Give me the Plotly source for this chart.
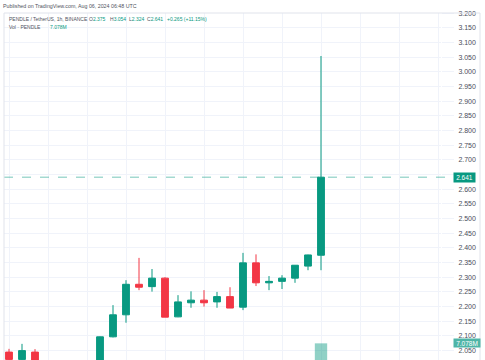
import plotly.graph_objects as go
import pandas as pd

# ---- data ----
times = pd.date_range("2024-08-05 06:00", periods=25, freq="h")
opens  = [2.045, 2.020, 2.045, None, None, None, None, 2.000, 2.097, 2.172, 2.276, 2.268, 2.297,
          2.165, 2.213, 2.222, 2.216, 2.234, 2.198, 2.349, 2.281, 2.286, 2.297, 2.338, 2.375]
highs  = [2.056, 2.073, 2.055, None, None, None, None, 2.098, 2.205, 2.290, 2.366, 2.328, 2.300,
          2.239, 2.252, 2.256, 2.250, 2.266, 2.383, 2.378, 2.304, 2.307, 2.341, 2.377, 3.054]
lows   = [2.000, 2.000, 1.990, None, None, None, None, 1.980, 2.095, 2.145, 2.256, 2.251, 2.164,
          2.164, 2.196, 2.200, 2.196, 2.195, 2.188, 2.270, 2.256, 2.260, 2.281, 2.324, 2.324]
closes = [2.020, 2.050, 2.000, None, None, None, None, 2.097, 2.172, 2.276, 2.266, 2.297, 2.164,
          2.216, 2.222, 2.213, 2.234, 2.195, 2.349, 2.281, 2.286, 2.297, 2.341, 2.376, 2.641]
volumes = [None] * 24 + [7.078e6]

last_price = 2.641
last_volume = 7.078e6
price_ticks = [round(2.05 + 0.05 * k, 3) for k in range(24)]
# the 2.650 label sits under the last-price badge
price_tick_text = ["" if abs(v - 2.65) < 1e-9 else f"{v:.3f}" for v in price_ticks]

GREEN = "#089981"
RED = "#F23645"
GRID = "#f0f3fa"
FRAME = "#e0e3eb"
TXT = "#4a4e5a"
HDR = "#50535e"

W, H = 485, 360
L, R, T, B = 4, 441, 13, 360  # plot area in pixels


def px(x):
    return (x - L) / (R - L)


def py(y):
    return (B - y) / (B - T)


hour = pd.Timedelta(hours=1)
x0 = (times[0] - hour * (5 / 13)).round("s")
x1 = (times[0] + hour * ((R - 9) / 13)).round("s")

fig = go.Figure()
fig.add_trace(go.Bar(
    x=times, y=volumes, yaxis="y2",
    marker=dict(color="rgba(8,153,129,0.45)", line=dict(width=0)),
    width=0.95 * 3600000, showlegend=False, hoverinfo="skip",
))
fig.add_trace(go.Candlestick(
    x=times, open=opens, high=highs, low=lows, close=closes,
    increasing=dict(line=dict(color=GREEN, width=1), fillcolor=GREEN),
    decreasing=dict(line=dict(color=RED, width=1), fillcolor=RED),
    whiskerwidth=0, showlegend=False,
))

fig.update_layout(
    width=W, height=H,
    margin=dict(l=L, r=W - R, t=T, b=H - B, pad=0),
    paper_bgcolor="white", plot_bgcolor="white",
    boxgap=0.25,
    font=dict(family="Liberation Sans", size=7, color=TXT),
    xaxis=dict(
        type="date", range=[x0, x1], rangeslider=dict(visible=False),
        showticklabels=False, ticks="", showline=False, zeroline=False,
        showgrid=True, gridcolor=GRID, gridwidth=1,
        tick0=times[0], dtick=3 * 3600000,
    ),
    yaxis=dict(
        side="right", range=[2.018, 3.2005],
        tickvals=price_ticks, ticktext=price_tick_text,
        showgrid=True, gridcolor=GRID, gridwidth=1,
        ticks="outside", ticklen=12, tickcolor=GRID, ticklabelstandoff=3,
        showline=False, zeroline=False,
        tickfont=dict(size=7, color=TXT),
    ),
    yaxis2=dict(
        overlaying="y", range=[0, last_volume / 0.048], showticklabels=False,
        showgrid=False, zeroline=False, showline=False,
    ),
    showlegend=False,
)

# price line
fig.add_shape(type="line", xref="paper", yref="y", x0=0, x1=px(455), y0=last_price, y1=last_price,
              line=dict(color="rgba(8,153,129,0.55)", width=1, dash="dash"))

# frame
fr = px(480)
for s in [dict(x0=0, x1=fr, y0=1, y1=1), dict(x0=0, x1=0, y0=0, y1=1), dict(x0=fr, x1=fr, y0=0, y1=1)]:
    fig.add_shape(type="line", xref="paper", yref="paper", line=dict(color=FRAME, width=1), **s)

# right labels
fig.add_annotation(xref="paper", yref="y", x=px(464), y=last_price, text=f"{last_price:.3f}",
                   showarrow=False, bgcolor=GREEN, font=dict(color="white", size=6.5),
                   borderpad=0.5, xanchor="center", yanchor="middle", width=20, height=8)
fig.add_annotation(xref="paper", yref="y2", x=px(466.5), y=last_volume, text="7.078M",
                   showarrow=False, bgcolor="#4fb5a7", font=dict(color="white", size=6.5),
                   borderpad=0.5, xanchor="center", yanchor="middle", width=25, height=7)

# header texts
g = GREEN


def txt(x, y, s, size=5.0):
    fig.add_annotation(xref="paper", yref="paper", x=px(x), y=py(y), xanchor="left", yanchor="middle",
                       text=s, showarrow=False, borderpad=0, font=dict(size=size, color=HDR))


txt(2, 6, "Published on TradingView.com, Aug 06, 2024 06:48 UTC", size=5.3)
txt(8, 19, "PENDLE / TetherUS, 1h, BINANCE")
txt(88, 19, f"O<span style='color:{g}'>2.375</span>")
txt(109, 19, f"H<span style='color:{g}'>3.054</span>")
txt(127.5, 19, f"L<span style='color:{g}'>2.324</span>")
txt(145.5, 19, f"C<span style='color:{g}'>2.641</span>")
txt(165.5, 19, f"<span style='color:{g}'>+0.265 (+11.15%)</span>")
txt(8, 27.5, "Vol · PENDLE")
txt(49, 27.5, f"<span style='color:{g}'>7.078M</span>")

fig.write_html("out.html", config={"displayModeBar": False},
               post_script="document.body.style.margin='0';document.body.style.overflow='hidden';")
